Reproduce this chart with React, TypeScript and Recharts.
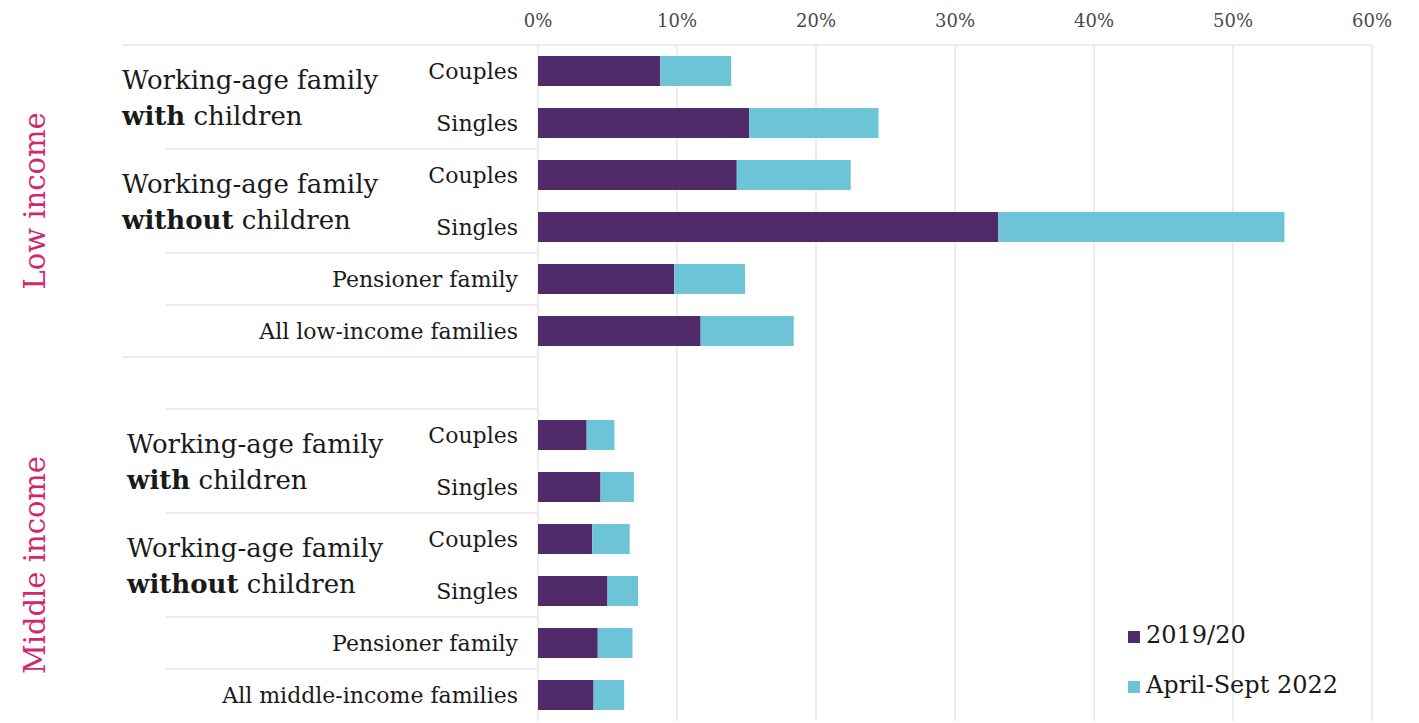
import React from 'react';
import { BarChart, Bar, XAxis, YAxis, CartesianGrid, Legend } from 'recharts';

document.body.style.margin = '0';

// sub-row labels, top to bottom (blank row separates the two income groups)
const rowLabels = [
  'Couples', 'Singles', 'Couples', 'Singles', 'Pensioner family', 'All low-income families',
  '',
  'Couples', 'Singles', 'Couples', 'Singles', 'Pensioner family', 'All middle-income families',
];
// share in 2019/20 (%)
const share2019 = [8.8, 15.2, 14.3, 33.1, 9.8, 11.7, null, 3.5, 4.5, 3.9, 5.0, 4.3, 4.0];
// extra share reached in April-Sept 2022 on top of 2019/20 (%)
const extra2022 = [5.1, 9.3, 8.2, 20.6, 5.1, 6.7, null, 2.0, 2.4, 2.7, 2.2, 2.5, 2.2];
const xTicks = [0, 10, 20, 30, 40, 50, 60];

const groupLabels = [
  { row: 0, bold: 'with' },
  { row: 2, bold: 'without' },
  { row: 7, bold: 'with' },
  { row: 9, bold: 'without' },
];
const incomeLabels = [
  { row: 2, text: 'Low income' },
  { row: 9, text: 'Middle income' },
];

const data = rowLabels.map((label, i) => ({
  key: `r${i}`,
  label,
  base: share2019[i],
  extra: extra2022[i],
}));

const PURPLE = '#512a6a';
const CYAN = '#6cc4d6';
const RULE = '#e6e6e6';
const FONT = '"DejaVu Serif", serif';
const HALF = 26; // half of a row band
const PLOT_LEFT = 538;
const PLOT_RIGHT = 1372;

// where the thin horizontal separators start (top edge of the given row)
const ruleStart: Record<number, number> = { 0: 122, 2: 166, 4: 166, 5: 166, 6: 122, 7: 166, 9: 166, 11: 166, 12: 166 };

function RowTick(props: any) {
  const { y, index } = props;
  const label = rowLabels[index];
  const group = groupLabels.find((g) => g.row === index);
  const income = incomeLabels.find((g) => g.row === index);
  const start = ruleStart[index];
  const gx = index > 6 ? 127 : 122;
  return (
    <g>
      {start !== undefined && (
        <line x1={start} x2={index === 0 ? PLOT_RIGHT : PLOT_LEFT} y1={y - HALF} y2={y - HALF} stroke={RULE} strokeWidth={1.5} />
      )}
      <text x={518} y={y} textAnchor="end" dominantBaseline="central" fontFamily={FONT} fontSize={22} fill="#1a1a1a">
        {label}
      </text>
      {group && (
        <text fontFamily={FONT} fontSize={26} fill="#1a1a1a">
          <tspan x={gx} y={y + HALF - 17} dominantBaseline="central">Working-age family</tspan>
          <tspan x={gx} y={y + HALF + 19} dominantBaseline="central">
            <tspan fontWeight="bold">{group.bold}</tspan> children
          </tspan>
        </text>
      )}
      {income && (
        <text
          x={35}
          y={y + HALF}
          transform={`rotate(-90 35 ${y + HALF})`}
          textAnchor="middle"
          dominantBaseline="central"
          fontFamily={FONT}
          fontSize={29}
          fill="#d4266f"
        >
          {income.text}
        </text>
      )}
    </g>
  );
}

function LegendBox() {
  const items = [
    { name: '2019/20', color: PURPLE },
    { name: 'April-Sept 2022', color: CYAN },
  ];
  return (
    <div style={{ fontFamily: FONT, fontSize: 24, color: '#1a1a1a' }}>
      {items.map((it) => (
        <div key={it.name} style={{ display: 'flex', alignItems: 'center', height: 50 }}>
          <span style={{ width: 12, height: 12, background: it.color, marginRight: 6, marginTop: 4 }} />
          {it.name}
        </div>
      ))}
    </div>
  );
}

export default function App() {
  return (
    <div style={{ width: 1419, height: 723, background: '#fff' }}>
      <BarChart
        width={1419}
        height={723}
        data={data}
        layout="vertical"
        margin={{ top: 15, right: 1419 - PLOT_RIGHT, left: 0, bottom: 2 }}
      >
        <CartesianGrid horizontal={false} stroke={RULE} strokeWidth={1.5} />
        <XAxis
          type="number"
          orientation="top"
          domain={[0, 60]}
          ticks={xTicks}
          interval={0}
          height={30}
          axisLine={false}
          tickLine={false}
          tickFormatter={(v) => `${v}%`}
          tick={{ fontFamily: FONT, fontSize: 18, fill: '#4a4a4a', dy: -10 }}
        />
        <YAxis
          type="category"
          dataKey="key"
          width={PLOT_LEFT}
          axisLine={false}
          tickLine={false}
          interval={0}
          tick={<RowTick />}
        />
        <Legend
          layout="vertical"
          align="center"
          verticalAlign="middle"
          content={<LegendBox />}
          wrapperStyle={{ left: 1128, top: 610, width: 280, height: 100 }}
        />
        <Bar dataKey="base" name="2019/20" stackId="s" fill={PURPLE} barSize={30} isAnimationActive={false} />
        <Bar dataKey="extra" name="April-Sept 2022" stackId="s" fill={CYAN} barSize={30} isAnimationActive={false} />
      </BarChart>
    </div>
  );
}
